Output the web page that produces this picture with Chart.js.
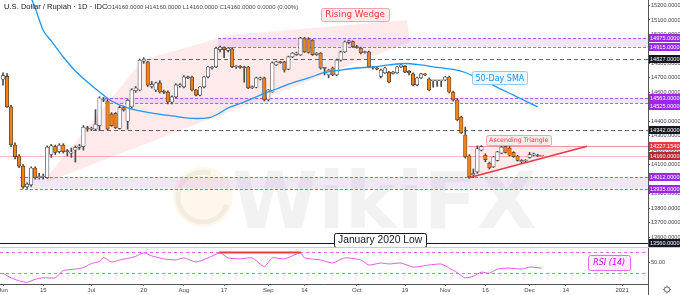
<!DOCTYPE html>
<html>
<head>
<meta charset="utf-8">
<script src="https://cdn.jsdelivr.net/npm/chart.js@4.4.1/dist/chart.umd.min.js"></script>
<style>
html, body { margin: 0; padding: 0; background: #fff; }
#wrap { position: relative; width: 680px; height: 295px; overflow: hidden; }
#main { position: absolute; left: 0; top: 0; }
#rsi { position: absolute; left: 0; top: 248px; }
</style>
</head>
<body>
<div id="wrap">
  <canvas id="main" width="680" height="248"></canvas>
  <canvas id="rsi" width="680" height="47"></canvas>
</div>
<script>
// daily candles, trading day 0 = 1 Jun 2020
var opens = [14690,14710,14500,14236,14160,14090,13946,13960,14077,14010,14015,14010,14170,14225,14190,14235,14195,14180,14200,14220,
  14225,14355,14345,14345,14370,14555,14540,14450,14455,14350,14495,14400,14500,14610,14616,14815,14810,14640,14616,14665,
  14605,14602,14533,14568,14645,14637,14706,14706,14616,14581,14637,14706,14768,14775,14895,14910,14890,14900,14775,14780,
  14772,14775,14632,14635,14690,14700,14547,14602,14790,14810,14810,14760,14845,14860,14858,14975,14970,14960,14860,14870,
  14768,14720,14768,14720,14823,14879,14945,14950,14915,14906,14875,14879,14775,14768,14710,14734,14740,14730,14734,14775,
  14780,14745,14727,14651,14699,14725,14692,14680,14680,14680,14685,14706,14602,14547,14429,14305,14160,14030,14050,14200,
  14165,14110,14085,14130,14180,14225,14215,14185,14160,14120,14125,14150,14165,14165,14160];
var highs = [14735,14730,14510,14250,14170,14100,13975,14085,14085,14040,14035,14230,14240,14235,14245,14245,14205,14215,14230,14240,
  14370,14365,14360,14480,14570,14565,14550,14460,14460,14505,14505,14550,14625,14640,14830,14840,14815,14675,14670,14680,
  14615,14610,14575,14660,14660,14715,14712,14712,14620,14640,14710,14780,14780,14912,14920,14915,14910,14910,14785,14785,
  14780,14780,14645,14705,14705,14705,14620,14810,14815,14815,14815,14850,14875,14878,14980,14980,14978,14965,14875,14875,
  14772,14760,14775,14830,14885,14955,14960,14955,14925,14912,14885,14885,14780,14772,14760,14775,14745,14745,14780,14795,
  14785,14750,14735,14705,14732,14730,14700,14680,14680,14680,14710,14712,14608,14555,14435,14360,14170,14070,14230,14232,
  14175,14118,14158,14192,14228,14230,14225,14190,14165,14135,14135,14185,14180,14172,14160];
var lows = [14650,14495,14225,14140,14080,13935,13935,13950,14000,14000,14000,14005,14150,14170,14180,14180,14160,14150,14118,14205,
  14200,14330,14335,14340,14335,14535,14340,14365,14350,14345,14470,14345,14490,14600,14610,14800,14640,14630,14605,14595,
  14590,14520,14520,14560,14635,14630,14695,14610,14575,14575,14630,14700,14760,14770,14880,14840,14880,14770,14765,14765,
  14670,14625,14625,14630,14685,14540,14540,14600,14785,14800,14740,14755,14840,14855,14855,14875,14870,14855,14855,14760,
  14720,14700,14715,14715,14815,14875,14935,14910,14905,14865,14870,14770,14760,14755,14700,14730,14665,14725,14730,14770,
  14735,14720,14645,14645,14695,14715,14610,14635,14640,14640,14680,14595,14540,14405,14315,14145,14008,14010,14040,14195,
  14120,14070,14080,14125,14175,14180,14160,14150,14125,14112,14118,14145,14160,14155,14160];
var closes = [14715,14500,14236,14155,14090,13946,13965,14077,14008,14015,14020,14222,14230,14185,14235,14190,14190,14185,14220,14230,
  14360,14345,14350,14380,14561,14545,14346,14370,14355,14495,14478,14545,14616,14630,14823,14830,14650,14655,14665,14602,
  14600,14533,14568,14651,14651,14706,14700,14616,14581,14637,14706,14775,14775,14906,14913,14895,14905,14775,14780,14772,
  14770,14630,14640,14700,14700,14547,14616,14803,14810,14805,14754,14845,14870,14872,14975,14880,14875,14860,14870,14768,
  14765,14754,14720,14823,14879,14948,14955,14915,14910,14872,14879,14775,14768,14760,14754,14768,14671,14740,14775,14789,
  14740,14735,14651,14699,14727,14720,14616,14680,14680,14680,14706,14602,14547,14409,14319,14153,14015,14040,14210,14225,
  14135,14077,14153,14188,14222,14185,14165,14155,14130,14130,14130,14170,14175,14160,14160];

// 50-day SMA
var smaDays = [7,8,10,12,15,18,21,24,27,31,36,42,48,51,53,56,60,64,68,72,76,80,84,88,92,96,100,104,108,112,115,118,121,124,127,130,133];
var smaValues = [15252,15183,15029,14955,14844,14747,14671,14602,14540,14492,14461,14437,14419,14423,14443,14492,14533,14581,14623,14665,
  14699,14737,14754,14768,14775,14789,14799,14789,14772,14758,14737,14699,14661,14620,14581,14540,14499];

// RSI(14)
var rsiDays = [0,2,4,6,8,10,13,15,18,20,22,24,25,27,29,31,33,35,37,40,43,45,48,51,54,56,59,62,65,67,70,74,75,79,82,85,89,91,94,96,
  99,102,106,109,111,113,115,117,119,121,123,126,129,131,134];
var rsiValues = [29,20,14,11,17,20,20,34,37,40,48,52,60,51,55,58,62,69,63,57,55,59,51,59,69,59,57,59,42,59,57,69,59,55,49,59,55,45,49,47,
  49,41,45,47,39,30,20,23,31,29,37,39,37,41,39];

var xTickDays = [0,10,22,35,45,55,66,75,88,100,110,120,131,140,154];
var xTickLabels = ['Jun','15','Jul','20','Aug','17','Sep','14','Oct','19','Nov','16','Dec','14','2021'];
var priceTicks = [13600,13700,13800,13900,14000,14100,14200,14300,14400,14500,14600,14700,14800,14900,15000,15100,15200];

// drawings (day, price)
var zones = [{lo: 14915, hi: 14975, from: 53.5}, {lo: 14525, hi: 14563, from: 25.4}, {lo: 13935, hi: 14012, from: 4.2}];
var dashLevels = [{v: 14827, from: 35.8}, {v: 14342, from: 22.4}];
var wedge = [[10.9,14015],[34.8,14823],[56.5,14996],[100.5,15100],[101.2,14948],[10.9,13980]];
var triangle = [[115.7,14008],[145.3,14227],[116.2,14227]];
var axisMarks = [[14975,'#9c27e8'],[14915,'#9c27e8'],[14827,'#131722'],[14563,'#9c27e8'],[14525,'#9c27e8'],[14342,'#131722'],
  [14227.154,'#f23645'],[14160,'#b52a2f'],[14012,'#9c27e8'],[13935,'#9c27e8'],[13560,'#131722']];
var rsiMark = [[53.7, 69.5], [74.1, 69.5]];

var X_MIN = -0.75, X_MAX = 160.45;
var Y_MIN = 13524, Y_MAX = 15238;
var RSI_MIN = 7.8, RSI_MAX = 78.4;

Chart.defaults.font.family = "'Liberation Sans', sans-serif";

var days = opens.map(function (o, i) { return i; });

function box(ctx, text, cx, cy, font, color, fill, stroke, padX, h) {
  ctx.font = font;
  var w = Math.round(ctx.measureText(text).width + padX * 2);
  var x0 = Math.round(cx - w / 2) + 0.5, y0 = Math.round(cy - h / 2) + 0.5;
  ctx.beginPath();
  ctx.roundRect(x0, y0, w, h, 2);
  ctx.fillStyle = fill; ctx.fill();
  ctx.strokeStyle = stroke; ctx.lineWidth = 1; ctx.stroke();
  ctx.fillStyle = color; ctx.textAlign = 'center'; ctx.textBaseline = 'middle';
  ctx.fillText(text, cx, cy + 0.5);
}

function hline(ctx, x0, x1, yy, color, dash) {
  ctx.strokeStyle = color; ctx.lineWidth = 1; ctx.setLineDash(dash || []);
  ctx.beginPath();
  ctx.moveTo(x0, Math.round(yy) + 0.5); ctx.lineTo(x1, Math.round(yy) + 0.5);
  ctx.stroke();
  ctx.setLineDash([]);
}

var mainDecor = {
  id: 'mainDecor',
  beforeDatasetsDraw: function (chart) {
    var ctx = chart.ctx, a = chart.chartArea, xs = chart.scales.x, ys = chart.scales.y;
    var X = function (d) { return xs.getPixelForValue(d); }, Y = function (v) { return ys.getPixelForValue(v); };
    ctx.save();
    ctx.beginPath(); ctx.rect(a.left, a.top, a.right - a.left, a.bottom - a.top); ctx.clip();

    // watermark
    ctx.fillStyle = 'rgba(250,175,60,0.10)';
    ctx.beginPath(); ctx.arc(203, 197, 30, 0, Math.PI * 2); ctx.fill();
    ctx.strokeStyle = 'rgba(0,0,0,0.045)'; ctx.lineWidth = 5;
    ctx.beginPath(); ctx.arc(203, 197, 25, 0.3, Math.PI * 1.6); ctx.stroke();
    ctx.font = 'bold 78px "DejaVu Sans"';
    ctx.fillStyle = 'rgba(0,0,0,0.05)'; ctx.textAlign = 'left'; ctx.textBaseline = 'alphabetic';
    ctx.fillText('WikiFX', 232, 228);

    // rising wedge
    ctx.fillStyle = 'rgba(242,54,69,0.11)';
    ctx.beginPath();
    wedge.forEach(function (p, k) { if (k) ctx.lineTo(X(p[0]), Y(p[1])); else ctx.moveTo(X(p[0]), Y(p[1])); });
    ctx.closePath(); ctx.fill();

    zones.forEach(function (z) {
      var x0 = X(z.from), y0 = Y(z.hi), y1 = Y(z.lo);
      ctx.fillStyle = 'rgba(170,110,240,0.17)';
      ctx.fillRect(x0, y0, a.right - x0, y1 - y0);
      hline(ctx, x0, a.right, y0, 'rgba(150,60,220,0.8)', [3, 2]);
      hline(ctx, x0, a.right, y1, 'rgba(150,60,220,0.8)', [3, 2]);
    });
    dashLevels.forEach(function (l) {
      hline(ctx, X(l.from), a.right, Y(l.v), 'rgba(50,50,50,0.75)', [4, 3]);
    });

    hline(ctx, a.left, a.right, Y(14160), 'rgba(242,54,69,0.35)');
    hline(ctx, X(triangle[0][0]), a.right, Y(14227.154), 'rgba(242,54,69,0.5)');
    hline(ctx, a.left, a.right, Y(13560), '#131722');

    ctx.fillStyle = 'rgba(242,54,69,0.10)';
    ctx.beginPath();
    triangle.forEach(function (p, k) { if (k) ctx.lineTo(X(p[0]), Y(p[1])); else ctx.moveTo(X(p[0]), Y(p[1])); });
    ctx.closePath(); ctx.fill();
    ctx.restore();
  },
  afterDatasetsDraw: function (chart) {
    var ctx = chart.ctx, xs = chart.scales.x, ys = chart.scales.y;
    var X = function (d) { return xs.getPixelForValue(d); }, Y = function (v) { return ys.getPixelForValue(v); };
    ctx.save();
    ctx.strokeStyle = '#f23645'; ctx.lineWidth = 1.5;
    ctx.beginPath();
    ctx.moveTo(X(triangle[0][0]), Y(triangle[0][1]));
    ctx.lineTo(X(triangle[1][0]), Y(triangle[1][1]));
    ctx.stroke();

    box(ctx, 'Rising Wedge', X(87.6), Y(15138), '8.8px "DejaVu Sans"', '#f23645', '#fdeaeb', '#f5a3a9', 4, 13);
    box(ctx, 'Ascending Triangle', X(128.3), Y(14270), '6.3px "DejaVu Sans"', '#f23645', '#fdeaeb', '#f5a3a9', 3, 10);
    box(ctx, '50-Day SMA', X(123.6), Y(14699), '8px "DejaVu Sans"', '#2196f3', '#eef6fe', '#90caf9', 3, 13);
    box(ctx, 'January 2020 Low', X(93.8), Y(13579), '10.3px "Liberation Sans"', '#131722', '#ffffff', '#131722', 4, 14);
    ctx.restore();
  },
  afterDraw: function (chart) {
    var ctx = chart.ctx, a = chart.chartArea, ys = chart.scales.y;
    ctx.save();
    // price scale markers
    var lastBottom = -99;
    axisMarks.forEach(function (m) {
      var cy = ys.getPixelForValue(m[0]);
      var top = Math.max(cy - 4, lastBottom);
      lastBottom = top + 8;
      ctx.fillStyle = m[1];
      ctx.fillRect(a.right + 1, Math.round(top), 680 - a.right - 1, 8);
      ctx.font = '5.6px "Liberation Sans"';
      ctx.fillStyle = '#ffffff'; ctx.textAlign = 'left'; ctx.textBaseline = 'middle';
      ctx.fillText(m[0].toFixed(4), a.right + 2, Math.round(top) + 4.5);
    });
    // pane separator
    hline(ctx, 0, 680, a.bottom - 1, '#c9cbd1');
    // header
    ctx.textAlign = 'left'; ctx.textBaseline = 'middle';
    ctx.font = '7.6px "Liberation Sans"'; ctx.fillStyle = '#131722';
    ctx.fillText('U.S. Dollar / Rupiah \u00b7 1D \u00b7 IDC', 4, 7);
    ctx.font = '6px "Liberation Sans"'; ctx.fillStyle = '#434651';
    ctx.fillText('O14160.0000 H14160.0000 L14160.0000 C14160.0000 0.0000 (0.00%)', 107, 7.5);
    ctx.restore();
  }
};

new Chart(document.getElementById('main'), {
  type: 'bar',
  data: {
    datasets: [
      {
        type: 'line', order: 1,
        data: smaDays.map(function (d, k) { return {x: d, y: smaValues[k]}; }),
        borderColor: '#2196f3', borderWidth: 1.3, pointRadius: 0, tension: 0.4, cubicInterpolationMode: 'monotone'
      },
      {
        order: 2, grouped: false, barThickness: 3.5, minBarLength: 1, borderSkipped: false, borderWidth: 0.7,
        data: days.map(function (i) { return {x: i, y: [opens[i], closes[i]]}; }),
        backgroundColor: days.map(function (i) { return closes[i] < opens[i] ? '#f0821c' : '#ffffff'; }),
        borderColor: '#3a3a3a'
      },
      {
        order: 3, grouped: false, barThickness: 1, borderWidth: 0,
        data: days.map(function (i) { return {x: i, y: [lows[i], highs[i]]}; }),
        backgroundColor: '#4a4a4a'
      }
    ]
  },
  options: {
    responsive: false, animation: false, events: [],
    layout: {padding: 0},
    plugins: {legend: {display: false}, tooltip: {enabled: false}},
    scales: {
      x: {type: 'linear', min: X_MIN, max: X_MAX, offset: false, display: false},
      y: {
        type: 'linear', position: 'right', min: Y_MIN, max: Y_MAX,
        afterBuildTicks: function (s) { s.ticks = priceTicks.map(function (v) { return {value: v}; }); },
        afterFit: function (s) { s.width = 32; s.paddingTop = 0; s.paddingBottom = 0; },
        ticks: {
          font: {size: 5.6}, color: '#3c3f48', padding: 1,
          callback: function (v) { return Number(v).toFixed(4); }
        },
        grid: {drawOnChartArea: false, tickLength: 2, color: '#555'},
        border: {color: '#555'}
      }
    }
  },
  plugins: [mainDecor]
});

var rsiDecor = {
  id: 'rsiDecor',
  beforeDatasetsDraw: function (chart) {
    var ctx = chart.ctx, a = chart.chartArea, ys = chart.scales.y;
    ctx.save();
    hline(ctx, a.left, a.right, ys.getPixelForValue(70), 'rgba(225,80,230,0.85)', [3, 3]);
    hline(ctx, a.left, a.right, ys.getPixelForValue(30), 'rgba(225,80,230,0.85)', [3, 3]);
    ctx.restore();
  },
  afterDatasetsDraw: function (chart) {
    var ctx = chart.ctx, xs = chart.scales.x, ys = chart.scales.y;
    ctx.save();
    ctx.strokeStyle = '#f23645'; ctx.lineWidth = 2;
    ctx.beginPath();
    ctx.moveTo(xs.getPixelForValue(rsiMark[0][0]), ys.getPixelForValue(rsiMark[0][1]));
    ctx.lineTo(xs.getPixelForValue(rsiMark[1][0]), ys.getPixelForValue(rsiMark[1][1]));
    ctx.stroke();
    box(ctx, 'RSI (14)', xs.getPixelForValue(150.8), ys.getPixelForValue(50), 'italic 8px "DejaVu Sans"', '#d500f9', '#fcefff', '#e66df0', 5, 15);
    ctx.restore();
  },
  afterDraw: function (chart) {
    var ctx = chart.ctx, a = chart.chartArea;
    ctx.save();
    ctx.strokeStyle = '#555'; ctx.lineWidth = 1;
    ctx.beginPath(); ctx.moveTo(a.right + 0.5, a.bottom); ctx.lineTo(a.right + 0.5, 47); ctx.stroke();
    // settings gear
    ctx.strokeStyle = '#6a6d78';
    ctx.beginPath(); ctx.arc(667, 41.5, 2.6, 0, Math.PI * 2); ctx.stroke();
    for (var k = 0; k < 8; k++) {
      var t = k * Math.PI / 4;
      ctx.beginPath();
      ctx.moveTo(667 + Math.cos(t) * 2.6, 41.5 + Math.sin(t) * 2.6);
      ctx.lineTo(667 + Math.cos(t) * 4, 41.5 + Math.sin(t) * 4);
      ctx.stroke();
    }
    ctx.restore();
  }
};

new Chart(document.getElementById('rsi'), {
  type: 'line',
  data: {
    datasets: [{
      data: rsiDays.map(function (d, k) { return {x: d, y: rsiValues[k]}; }),
      borderColor: '#e35be6', borderWidth: 1, pointRadius: 0, tension: 0.2
    }]
  },
  options: {
    responsive: false, animation: false, events: [],
    layout: {padding: 0},
    plugins: {legend: {display: false}, tooltip: {enabled: false}},
    scales: {
      x: {
        type: 'linear', min: X_MIN, max: X_MAX, offset: false,
        afterBuildTicks: function (s) { s.ticks = xTickDays.map(function (v) { return {value: v}; }); },
        afterFit: function (s) { s.height = 11; s.paddingLeft = 0; s.paddingRight = 0; },
        ticks: {
          autoSkip: false, maxRotation: 0, font: {size: 6}, color: '#434651', padding: 1,
          callback: function (v, k) { return xTickLabels[k]; }
        },
        grid: {drawOnChartArea: false, tickLength: 2, color: '#787b86'},
        border: {color: '#555'}
      },
      y: {
        type: 'linear', position: 'right', min: RSI_MIN, max: RSI_MAX,
        afterBuildTicks: function (s) { s.ticks = [{value: 50}]; },
        afterFit: function (s) { s.width = 32; s.paddingTop = 0; s.paddingBottom = 0; },
        ticks: {font: {size: 5.6}, color: '#3c3f48', padding: 1, callback: function (v) { return Number(v).toFixed(2); }},
        grid: {drawOnChartArea: false, tickLength: 2, color: '#555'},
        border: {color: '#555'}
      }
    }
  },
  plugins: [rsiDecor]
});
</script>
</body>
</html>
